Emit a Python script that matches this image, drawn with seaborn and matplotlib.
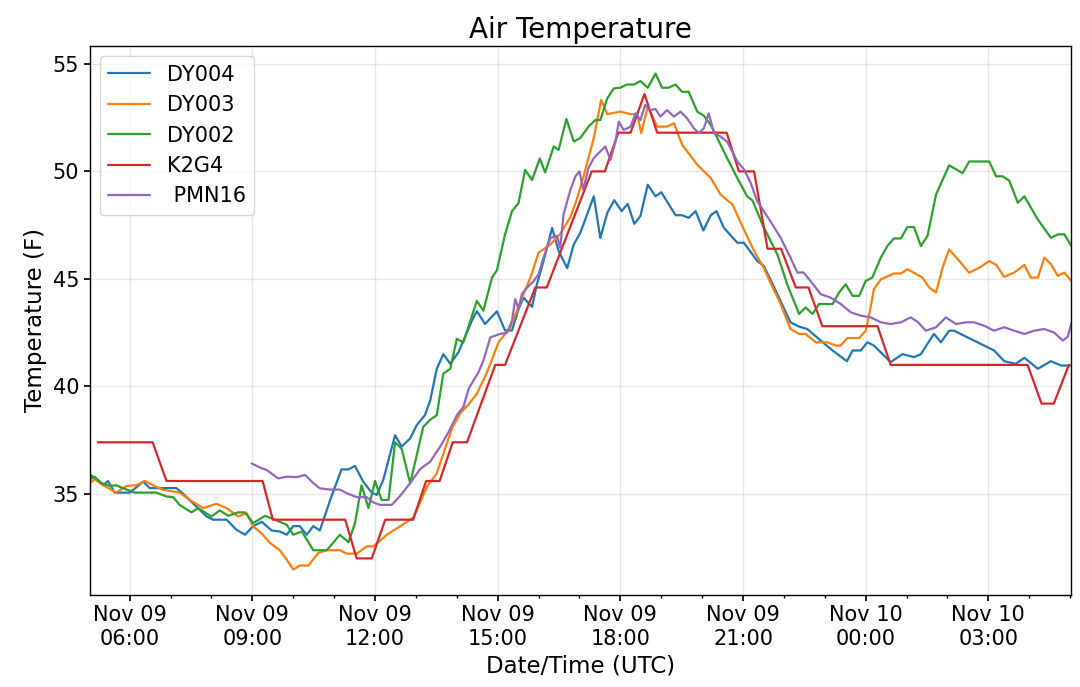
"""
Air temperature comparison of five stations, Nov 09-10 (UTC).
"""

import pandas as pd
import matplotlib
matplotlib.use("Agg")
import matplotlib.pyplot as plt
import matplotlib.dates as mdates
import seaborn as sns

BASE = pd.Timestamp("2018-11-09 00:00")

# ── Data: hours since Nov 09 00:00 UTC and temperature (F) ──────────────────
dy004_t = [5.02, 5.18, 5.35, 5.47, 5.63, 6.00, 6.33, 6.49, 7.14, 7.31, 7.63, 7.88,
           8.04, 8.37, 8.61, 8.82, 9.02, 9.23, 9.47, 9.67, 9.84, 10.00, 10.16, 10.33,
           10.49, 10.65, 10.90, 11.18, 11.35, 11.51, 11.71, 11.92, 12.04, 12.20, 12.49,
           12.65, 12.86, 13.02, 13.22, 13.35, 13.51, 13.67, 13.84, 14.04, 14.37, 14.49,
           14.69, 14.98, 15.18, 15.35, 15.51, 15.63, 15.84, 15.96, 16.12, 16.33, 16.49,
           16.70, 16.86, 17.02, 17.35, 17.51, 17.68, 17.85, 18.03, 18.18, 18.34, 18.49,
           18.67, 18.86, 19.00, 19.35, 19.51, 19.67, 19.84, 20.03, 20.21, 20.35, 20.53,
           20.86, 21.02, 21.35, 21.51, 21.84, 22.16, 22.37, 22.57, 22.90, 23.19, 23.54,
           23.68, 23.88, 24.04, 24.20, 24.61, 24.90, 25.18, 25.35, 25.51, 25.67, 25.84,
           26.04, 26.16, 26.65, 27.14, 27.39, 27.67, 27.88, 28.21, 28.53, 28.78, 29.03]
dy004_v = [35.9, 35.7, 35.4, 35.6, 35.06, 35.06, 35.57, 35.27, 35.27, 35.0, 34.41, 33.95,
           33.8, 33.8, 33.33, 33.1, 33.5, 33.7, 33.3, 33.25, 33.1, 33.5, 33.5, 33.1,
           33.5, 33.3, 34.7, 36.14, 36.14, 36.3, 35.57, 35.06, 34.95, 35.64, 37.73,
           37.2, 37.58, 38.2, 38.66, 39.35, 40.82, 41.5, 41.05, 41.59, 43.06, 43.5,
           42.9, 43.49, 42.6, 42.6, 43.6, 44.13, 43.7, 44.75, 45.83, 47.37, 46.3,
           45.5, 46.6, 47.14, 48.84, 46.9, 48.07, 48.66, 48.15, 48.49, 47.56, 47.92,
           49.38, 48.84, 49.03, 47.96, 47.96, 47.84, 48.15, 47.25, 47.96, 48.15, 47.38,
           46.68, 46.68, 45.83, 45.6, 44.29, 42.98, 42.78, 42.67, 42.13, 41.67, 41.17,
           41.67, 41.67, 42.05, 41.9, 41.13, 41.5, 41.36, 41.5, 41.98, 42.44, 42.05,
           42.59, 42.59, 42.13, 41.67, 41.17, 41.05, 41.33, 40.82, 41.17, 40.97, 40.97]

dy003_t = [5.02, 5.14, 5.35, 5.67, 5.92, 6.16, 6.37, 6.57, 6.82, 7.22, 7.47, 7.80,
           8.12, 8.37, 8.65, 8.86, 9.02, 9.23, 9.43, 9.67, 9.84, 10.00, 10.16, 10.37,
           10.61, 10.82, 11.14, 11.31, 11.55, 11.80, 11.96, 12.29, 12.61, 12.94, 13.27,
           13.51, 13.88, 14.08, 14.29, 14.49, 14.74, 15.02, 15.31, 15.63, 15.80, 16.00,
           16.29, 16.53, 16.78, 16.94, 17.10, 17.35, 17.53, 17.68, 18.00, 18.25, 18.41,
           18.51, 18.67, 18.90, 19.14, 19.31, 19.51, 19.88, 20.21, 20.45, 20.74, 21.02,
           21.27, 21.51, 21.67, 21.92, 22.16, 22.37, 22.53, 22.78, 23.06, 23.27, 23.39,
           23.55, 23.84, 24.00, 24.12, 24.20, 24.37, 24.69, 24.86, 25.02, 25.39, 25.55,
           25.72, 25.88, 26.04, 26.29, 26.53, 26.78, 27.02, 27.19, 27.39, 27.63, 27.88,
           28.04, 28.21, 28.37, 28.53, 28.70, 28.86, 29.03]
dy003_v = [35.5, 35.68, 35.4, 35.06, 35.37, 35.4, 35.6, 35.4, 35.19, 35.06, 34.72, 34.34,
           34.54, 34.34, 33.95, 34.1, 33.49, 33.15, 32.72, 32.38, 31.94, 31.48, 31.67, 31.67,
           32.25, 32.38, 32.38, 32.22, 32.22, 32.56, 32.56, 33.1, 33.49, 33.9, 35.34,
           35.96, 38.04, 38.74, 39.17, 39.66, 40.66, 42.05, 42.75, 44.29, 45.06, 46.22,
           46.6, 47.1, 47.88, 48.73, 49.77, 51.55, 53.32, 52.66, 52.78, 52.66, 52.66,
           51.78, 53.01, 52.08, 52.08, 52.24, 51.24, 50.31, 49.69, 48.92, 48.46, 47.3,
           46.3, 45.5, 44.83, 43.83, 42.67, 42.44, 42.44, 42.05, 42.05, 41.9, 41.9,
           42.25, 42.25, 42.59, 43.67, 44.52, 44.98, 45.25, 45.25, 45.45, 45.06, 44.6,
           44.37, 45.52, 46.37, 45.83, 45.29, 45.52, 45.83, 45.65, 45.09, 45.29, 45.65,
           45.06, 45.06, 45.99, 45.68, 45.14, 45.29, 44.9]

dy002_t = [5.02, 5.14, 5.31, 5.51, 5.67, 5.84, 6.12, 6.65, 6.90, 7.06, 7.22, 7.51,
           7.67, 8.00, 8.20, 8.41, 8.65, 8.82, 9.02, 9.31, 9.55, 9.84, 10.00, 10.21,
           10.49, 10.82, 11.14, 11.35, 11.51, 11.67, 11.84, 12.00, 12.16, 12.33, 12.49,
           12.65, 12.86, 13.18, 13.35, 13.51, 13.67, 13.84, 14.00, 14.16, 14.49, 14.65,
           14.86, 14.98, 15.18, 15.35, 15.51, 15.67, 15.84, 16.03, 16.16, 16.37, 16.49,
           16.68, 16.86, 17.02, 17.22, 17.39, 17.51, 17.68, 17.84, 18.00, 18.16, 18.33,
           18.49, 18.67, 18.86, 19.02, 19.18, 19.35, 19.51, 19.67, 19.88, 20.04, 20.21,
           20.37, 20.61, 20.86, 21.10, 21.23, 21.51, 21.84, 22.08, 22.37, 22.53, 22.70,
           22.86, 23.19, 23.35, 23.51, 23.68, 23.84, 24.00, 24.16, 24.37, 24.53, 24.69,
           24.86, 25.02, 25.18, 25.35, 25.51, 25.72, 26.04, 26.37, 26.53, 27.02, 27.19,
           27.35, 27.51, 27.72, 27.88, 28.21, 28.53, 28.70, 28.86, 29.03]
dy002_v = [35.68, 35.8, 35.5, 35.37, 35.4, 35.26, 35.06, 35.06, 34.88, 34.85, 34.49, 34.14,
           34.34, 33.95, 34.23, 33.98, 34.14, 34.14, 33.64, 33.98, 33.8, 33.56, 33.1, 33.25,
           32.38, 32.38, 33.1, 32.75, 33.64, 35.4, 34.34, 35.6, 34.72, 34.72, 37.4,
           37.1, 35.49, 38.12, 38.45, 38.66, 40.59, 40.82, 42.21, 42.05, 43.98, 43.52,
           45.06, 45.4, 47.07, 48.15, 48.53, 50.07, 49.6, 50.6, 49.95, 51.16, 51.0,
           52.44, 51.39, 51.55, 52.08, 52.39, 52.39, 53.4, 53.86, 53.89, 54.04, 54.04,
           54.2, 53.89, 54.55, 53.89, 53.89, 54.04, 53.7, 53.7, 52.78, 52.59, 52.16,
           51.55, 50.62, 49.69, 48.84, 48.65, 47.38, 46.14, 44.75, 43.37, 43.67, 43.37,
           43.83, 43.83, 44.37, 44.75, 44.21, 44.21, 44.9, 45.06, 45.99, 46.53, 46.88,
           46.88, 47.41, 47.41, 46.53, 46.99, 48.92, 50.28, 49.92, 50.46, 50.46, 49.77,
           49.77, 49.57, 48.54, 48.84, 47.76, 46.91, 47.07, 47.07, 46.53]

k2g4_t = [5.22, 6.56, 6.90, 9.25, 9.50, 11.27, 11.55, 11.92, 12.25, 12.93, 13.25, 13.58,
          13.90, 14.25, 14.94, 15.18, 15.92, 16.20, 17.30, 17.62, 17.95, 18.25, 18.59,
          18.90, 20.60, 20.90, 21.27, 21.60, 21.93, 22.29, 22.60, 22.94, 24.29, 24.61,
          27.96, 28.30, 28.60, 28.97]
k2g4_v = [37.4, 37.4, 35.6, 35.6, 33.8, 33.8, 32.0, 32.0, 33.8, 33.8, 35.6, 35.6,
          37.4, 37.4, 41.0, 41.0, 44.6, 44.6, 50.0, 50.0, 51.8, 51.8, 53.6,
          51.8, 51.8, 50.0, 50.0, 46.4, 46.4, 44.6, 44.6, 42.8, 42.8, 41.0,
          41.0, 39.2, 39.2, 41.0]

pmn16_t = [8.98, 9.18, 9.35, 9.63, 9.84, 10.09, 10.29, 10.49, 10.65, 10.90, 11.14, 11.31,
           11.55, 11.80, 11.96, 12.12, 12.41, 12.61, 12.86, 13.10, 13.35, 13.59, 13.80,
           14.00, 14.16, 14.29, 14.41, 14.53, 14.65, 14.82, 15.06, 15.23, 15.35, 15.43,
           15.51, 15.59, 15.72, 15.88, 16.00, 16.12, 16.29, 16.45, 16.53, 16.61, 16.78,
           16.90, 17.00, 17.09, 17.22, 17.35, 17.51, 17.63, 17.76, 17.88, 17.96, 18.08,
           18.25, 18.37, 18.49, 18.61, 18.74, 18.86, 18.98, 19.14, 19.31, 19.47, 19.63,
           19.80, 19.92, 20.04, 20.16, 20.29, 20.45, 20.61, 20.86, 21.02, 21.18, 21.35,
           21.67, 21.92, 22.16, 22.33, 22.48, 22.65, 22.90, 23.14, 23.39, 23.64, 23.88,
           24.12, 24.37, 24.61, 24.86, 25.10, 25.27, 25.47, 25.72, 25.96, 26.21, 26.45,
           26.65, 26.90, 27.14, 27.39, 27.63, 27.88, 28.12, 28.37, 28.61, 28.82, 28.94,
           29.03]
pmn16_v = [36.42, 36.23, 36.11, 35.72, 35.8, 35.78, 35.88, 35.5, 35.26, 35.2, 35.2, 35.03,
           34.85, 34.85, 34.6, 34.49, 34.49, 34.9, 35.5, 36.15, 36.5, 37.19, 37.88,
           38.66, 39.04, 39.89, 40.28, 40.66, 41.2, 42.28, 42.44, 42.5, 43.06, 44.06,
           43.6, 44.29, 44.6, 44.9, 45.22, 45.99, 46.9, 47.0, 46.45, 48.0, 49.15,
           49.77, 50.0, 49.15, 50.15, 50.62, 50.93, 51.16, 50.54, 51.39, 52.31, 51.93,
           52.08, 52.7, 52.39, 53.09, 52.85, 52.9, 52.55, 52.85, 52.55, 52.78, 52.47,
           52.0, 51.78, 52.0, 52.7, 51.78, 51.62, 51.39, 50.46, 50.1, 49.5, 48.6,
           47.68, 46.91, 45.99, 45.29, 45.3, 44.9, 44.29, 44.13, 43.83, 43.44, 43.29,
           43.21, 42.98, 42.9, 42.98, 43.21, 43.0, 42.59, 42.75, 43.21, 42.9, 42.98,
           42.98, 42.82, 42.59, 42.75, 42.59, 42.44, 42.59, 42.67, 42.5, 42.13, 42.3,
           42.93]

STATIONS = ["DY004", "DY003", "DY002", "K2G4", " PMN16"]
SERIES = [(dy004_t, dy004_v), (dy003_t, dy003_v), (dy002_t, dy002_v),
          (k2g4_t, k2g4_v), (pmn16_t, pmn16_v)]

frames = []
for name, (hours, temps) in zip(STATIONS, SERIES):
    frames.append(pd.DataFrame({
        "time": BASE + pd.to_timedelta(hours, unit="h"),
        "temp": temps,
        "station": name,
    }))
df = pd.concat(frames, ignore_index=True)

# ── Plot ────────────────────────────────────────────────────────────────────
sns.set_theme(style="ticks")
plt.rcParams["font.family"] = ["DejaVu Sans"]
for key in ["text.color", "axes.labelcolor", "xtick.color", "ytick.color"]:
    plt.rcParams[key] = "black"

fig, ax = plt.subplots(figsize=(10.8, 6.87), dpi=100)
fig.subplots_adjust(left=0.083, right=0.992, top=0.933, bottom=0.134)

sns.lineplot(data=df, x="time", y="temp", hue="station", hue_order=STATIONS,
             palette=sns.color_palette("tab10", 5), estimator=None, sort=True,
             linewidth=1.6, ax=ax)

ax.set_xlim(BASE + pd.Timedelta(hours=5.02), BASE + pd.Timedelta(hours=29.03))
ax.set_ylim(30.3, 55.83)
ax.set_yticks([35, 40, 45, 50, 55])

ax.xaxis.set_major_locator(mdates.HourLocator(byhour=range(0, 24, 3)))
ax.xaxis.set_minor_locator(mdates.HourLocator())
ax.xaxis.set_major_formatter(mdates.DateFormatter("%b %d\n%H:%M"))

ax.grid(True, which="major", color="#b0b0b0", alpha=0.3, linewidth=1.0)
for side in ["top", "right", "left", "bottom"]:
    ax.spines[side].set_visible(True)
    ax.spines[side].set_color("black")
    ax.spines[side].set_linewidth(1.0)
ax.tick_params(axis="both", which="major", labelsize=15, length=4, color="black")
ax.tick_params(axis="x", which="minor", length=2.5, color="black")

ax.set_title("Air Temperature", fontsize=20)
ax.set_xlabel("Date/Time (UTC)", fontsize=16.5)
ax.set_ylabel("Temperature (F)", fontsize=16.5)

handles, labels = ax.get_legend_handles_labels()
ax.legend(handles, labels, loc="upper left", fontsize=15, frameon=True,
          borderaxespad=0.5)

fig.savefig("out.png", dpi=100)
